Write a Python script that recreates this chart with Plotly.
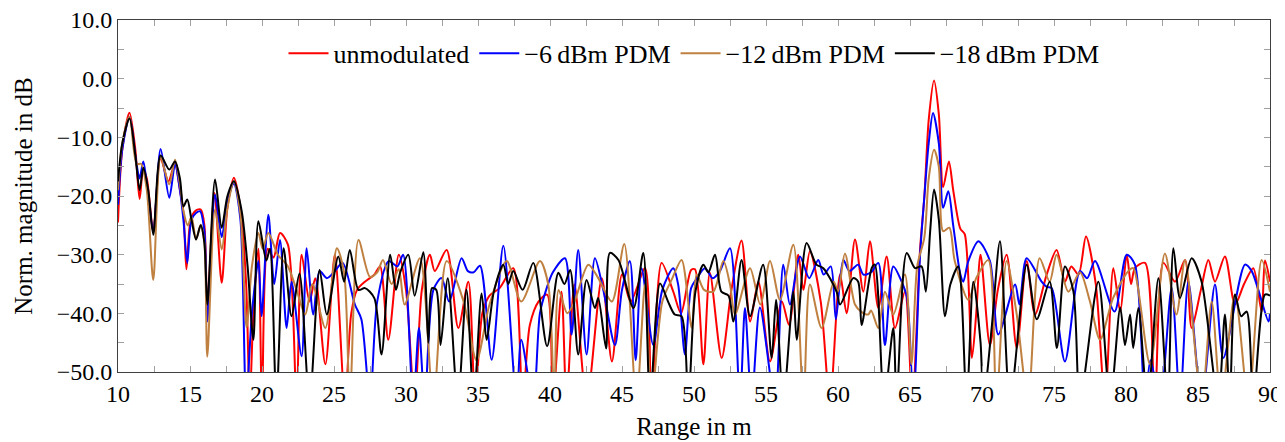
import plotly.graph_objects as go

# ---- data (range in m, normalized magnitude in dB) ----
unmod_x = [10.0, 10.3, 10.8, 11.2, 11.5, 11.75, 12.0, 12.45, 12.95, 13.5, 13.95, 14.3, 14.55, 14.75, 15.05,
           15.4, 15.75, 16.0, 16.2, 16.7, 17.2, 17.6, 18.05, 18.5, 18.9, 19.15, 19.4, 19.75,
           20.0, 20.4, 20.8, 21.25, 21.8, 22.4, 22.75, 23.3, 23.7, 24.4, 25.06, 25.76, 26.2, 26.6, 27.15,
           27.8, 28.2, 28.77, 29.5, 30.0, 30.6, 31.1, 31.66, 32.0, 32.82, 33.63, 34.33, 34.8, 35.3, 35.8,
           36.5, 37.45, 38.1, 38.6, 39.2, 39.8, 40.2, 40.8, 41.15, 41.7, 42.55, 43.6, 44.3, 45.0, 45.6,
           46.6, 47.05, 47.75, 48.56, 49.1, 49.8, 50.07, 50.65, 51.1, 51.92, 52.6, 53.3, 53.9, 54.47, 55.28,
           56.1, 56.6, 57.24, 57.6, 58.05, 58.8, 59.44, 60.14, 60.6, 61.18, 61.76, 62.22, 62.8, 63.38,
           63.96, 64.65, 65.16, 65.7, 66.0, 66.3, 66.67, 67.0, 67.3, 67.7, 68.0, 68.5, 68.8, 69.3, 69.6,
           69.9, 70.55, 71.1, 71.71, 72.41, 73.1, 73.68, 74.49, 75.18, 75.76, 76.2, 76.7, 77.22, 77.9, 78.54,
           79.12, 79.6, 80.05, 80.35, 80.62, 81.32, 82.0, 82.6, 83.4, 84.1, 84.56, 85.2, 85.72, 86.18, 86.87,
           87.57, 88.2, 88.84, 89.42, 89.65, 90.0]
unmod_y = [-24.5, -12.0, -5.8, -12.0, -20.5, -15.5, -17.0, -26.0, -13.5, -17.5, -14.5, -19.0, -23.0, -32.5, -24.0,
           -22.5, -22.3, -25.0, -39.0, -19.5, -34.8, -22.0, -16.9, -22.0, -35.0, -55.0, -40.0, -29.0,
           -55.0, -29.0, -30.5, -26.3, -28.3, -55.0, -30.0, -38.0, -34.0, -48.7, -30.0, -55.0, -40.0, -36.0, -34.6,
           -33.4, -32.0, -44.5, -30.0, -36.0, -55.0, -36.0, -30.0, -32.8, -29.2, -42.5, -34.6, -55.0, -40.0, -37.0,
           -35.7, -32.3, -55.0, -42.0, -38.0, -36.8, -55.0, -36.3, -55.0, -35.1, -55.0, -34.0, -48.2, -33.4, -38.0,
           -32.3, -55.0, -31.4, -36.3, -40.0, -32.6, -32.5, -48.7, -33.1, -47.6, -36.0, -27.6, -41.4, -34.6, -48.2,
           -38.0, -42.0, -30.0, -36.0, -29.4, -38.0, -55.0, -33.4, -40.0, -27.4, -36.3, -27.7, -39.1, -30.3,
           -42.5, -36.3, -55.0, -29.0, -20.0, -7.0, -0.3, -6.0, -18.5, -14.1, -19.0, -25.6, -26.5, -47.6, -40.0,
           -30.0, -45.4, -36.0, -30.0, -45.9, -31.1, -40.2, -33.4, -29.2, -34.6, -32.0, -33.4, -26.9, -35.0, -55.0,
           -32.3, -39.7, -30.0, -35.0, -32.3, -31.4, -55.0, -31.4, -34.6, -30.9, -42.5, -36.0, -30.9, -34.6, -30.3,
           -38.5, -35.0, -32.3, -39.7, -31.0, -34.6]

pdm6_x = [10.0, 10.3, 10.8, 11.25, 11.5, 11.76, 12.1, 12.45, 12.96, 13.56, 13.96, 14.3, 14.54, 14.81, 15.1,
          15.42, 15.7, 16.0, 16.2, 16.74, 17.2, 17.6, 18.05, 18.5, 18.9, 19.3, 19.75, 19.97, 20.44, 20.85,
          21.25, 21.71, 22.05, 22.75, 23.1, 23.56, 24.0, 24.5, 25.0, 25.6, 26.45, 26.9, 27.5, 28.0, 28.8,
          29.4, 29.8, 30.5, 30.9, 31.3, 31.9, 32.47, 33.0, 33.86, 34.3, 34.7, 35.14, 35.95, 36.76, 37.68,
          38.0, 38.84, 39.3, 39.77, 40.2, 41.04, 41.5, 41.96, 42.54, 43.12, 43.7, 44.51, 45.0, 45.55, 45.95,
          46.36, 47.17, 47.8, 48.56, 48.9, 49.37, 49.8, 50.2, 50.76, 51.3, 51.8, 52.5, 53.19, 53.54, 54.0,
          54.58, 55.62, 56.2, 56.66, 57.36, 58.0, 58.63, 59.0, 59.5, 59.85, 60.37, 60.8, 61.4, 61.76, 62.3,
          62.8, 63.26, 63.84, 64.42, 64.8, 65.23, 65.7, 66.0, 66.3, 66.6, 67.0, 67.3, 67.66, 68.0, 68.5,
          68.7, 69.05, 69.75, 70.55, 71.13, 72.3, 72.6, 73.1, 74.14, 74.5, 74.84, 75.76, 76.8, 77.3, 77.85,
          79.2, 80.05, 80.62, 81.32, 81.7, 82.36, 83.17, 83.75, 84.33, 85.25, 86.18, 86.76, 88.26, 88.73,
          89.9, 90.0]
pdm6_y = [-21.5, -12.0, -6.5, -14.0, -17.0, -14.1, -20.0, -26.0, -12.0, -20.3, -14.6, -19.0, -24.0, -31.4, -24.0,
          -22.9, -22.6, -26.0, -41.4, -19.8, -27.0, -21.0, -17.9, -24.0, -55.0, -40.0, -31.1, -40.5, -23.2, -35.0,
          -27.5, -42.5, -34.6, -47.3, -28.9, -40.2, -32.8, -34.0, -33.0, -31.4, -38.5, -41.0, -55.0, -38.0, -31.1,
          -32.0, -30.0, -55.0, -42.5, -55.0, -36.0, -34.0, -38.0, -30.6, -32.8, -33.0, -31.9, -47.9, -28.5, -55.0,
          -44.5, -55.0, -40.0, -35.7, -33.0, -30.6, -43.6, -29.2, -47.0, -30.6, -36.0, -45.4, -36.0, -31.1, -48.0,
          -32.3, -45.4, -36.0, -32.3, -35.1, -47.0, -35.7, -34.0, -32.3, -34.0, -32.8, -28.9, -55.0, -39.1, -55.0,
          -39.0, -55.0, -31.7, -38.5, -30.3, -34.0, -30.9, -33.4, -32.0, -41.0, -30.9, -32.8, -31.7, -33.4, -33.0,
          -31.4, -45.4, -32.0, -34.6, -37.4, -55.0, -30.0, -20.0, -11.0, -5.85, -11.0, -22.0, -19.2, -25.0, -33.4,
          -34.6, -31.1, -27.7, -31.1, -43.6, -35.1, -38.5, -30.6, -34.6, -35.5, -35.7, -48.2, -32.8, -34.0, -31.1,
          -39.7, -30.0, -31.7, -55.0, -48.0, -55.0, -35.7, -55.0, -34.6, -55.0, -35.1, -47.6, -31.7, -32.8,
          -41.4, -40.0]

pdm12_x = [10.0, 10.3, 10.8, 11.3, 11.6, 12.0, 12.45, 12.96, 13.56, 13.96, 14.3, 14.54, 14.85, 15.1, 15.42,
           15.74, 16.0, 16.2, 16.74, 17.2, 17.6, 18.05, 18.5, 18.93, 19.3, 19.75, 20.05, 20.44, 21.1, 21.8,
           22.4, 23.0, 23.5, 24.4, 25.2, 25.7, 26.1, 26.7, 27.5, 28.0, 28.4, 29.0, 29.5, 29.9, 30.97, 31.9,
           32.82, 34.0, 34.9, 35.8, 36.99, 38.0, 39.3, 39.88, 40.3, 40.6, 41.2, 41.7, 42.66, 43.35, 44.3,
           45.16, 46.0, 46.6, 47.05, 47.8, 48.5, 49.14, 49.84, 50.18, 50.7, 51.34, 52.04, 52.5, 52.85, 53.89,
           54.6, 55.28, 55.97, 56.9, 57.6, 58.05, 58.86, 59.7, 60.0, 60.48, 61.18, 61.6, 62.1, 62.3, 62.8,
           63.26, 63.84, 64.65, 65.1, 65.5, 66.0, 66.3, 66.67, 67.0, 67.3, 67.73, 68.1, 69.05, 69.6, 70.44,
           71.0, 71.71, 72.4, 73.2, 74.0, 74.7, 75.18, 76.0, 76.8, 77.5, 78.2, 79.1, 80.16, 80.5, 81.67,
           82.7, 83.5, 84.1, 85.25, 85.95, 86.6, 87.57, 88.5, 89.42, 90.0]
pdm12_y = [-19.0, -11.0, -6.5, -14.6, -14.5, -19.0, -34.3, -13.5, -18.0, -13.8, -18.0, -22.5, -25.0, -23.5, -27.4,
           -24.9, -28.0, -47.4, -22.3, -29.1, -22.0, -17.5, -23.0, -42.4, -32.0, -26.3, -29.0, -26.3, -30.0, -32.0,
           -36.0, -40.2, -35.0, -42.5, -28.9, -33.0, -55.0, -27.5, -33.8, -33.0, -30.9, -35.0, -32.5, -38.5, -30.6, -55.0,
           -31.1, -38.0, -48.0, -38.5, -31.1, -38.0, -31.1, -35.1, -55.0, -36.0, -40.0, -38.0, -31.7, -34.0, -38.0,
           -28.2, -55.0, -35.1, -55.0, -38.0, -34.0, -30.9, -42.5, -33.4, -36.0, -36.3, -31.1, -35.1, -40.2, -32.3,
           -38.5, -31.1, -37.7, -28.3, -55.0, -35.1, -42.5, -34.6, -36.3, -29.8, -38.5, -39.7, -40.2, -39.5, -42.5,
           -36.3, -40.2, -33.4, -48.7, -32.0, -27.0, -17.0, -12.1, -15.0, -26.0, -25.4, -31.0, -37.7, -34.0, -30.9,
           -55.0, -31.1, -40.0, -55.0, -30.6, -34.6, -30.0, -36.3, -33.0, -38.0, -44.5, -37.4, -32.8, -32.3, -48.7,
           -29.8, -40.2, -30.9, -55.0, -38.0, -55.0, -36.8, -55.0, -30.9, -36.3]

pdm18_x = [10.0, 10.3, 10.8, 11.2, 11.5, 11.76, 12.1, 12.45, 12.96, 13.56, 13.96, 14.3, 14.54, 14.81, 15.1,
           15.42, 15.74, 16.0, 16.2, 16.74, 17.2, 17.6, 18.05, 18.59, 19.0, 19.4, 19.75, 20.3, 20.55, 21.0,
           21.5, 22.05, 22.6, 23.3, 24.0, 24.5, 25.3, 25.7, 26.1, 26.7, 27.15, 27.8, 28.3, 28.9, 29.3, 29.6,
           30.16, 30.6, 31.2, 31.55, 31.8, 32.1, 32.4, 32.9, 33.6, 34.2, 34.7, 35.25, 35.6, 36.1, 36.76,
           37.1, 37.45, 38.1, 38.84, 39.8, 40.58, 41.0, 41.4, 41.96, 42.54, 43.12, 43.35, 43.9, 44.16, 44.75,
           45.8, 46.48, 46.95, 47.64, 48.2, 48.66, 49.14, 49.6, 50.1, 50.65, 51.0, 51.46, 51.9, 52.4, 52.73,
           53.3, 53.89, 54.8, 55.39, 55.7, 56.2, 56.9, 57.13, 57.82, 58.5, 58.98, 59.9, 60.14, 61.06, 61.4,
           61.64, 62.34, 62.56, 63.2, 63.84, 64.07, 64.77, 65.35, 65.8, 66.1, 66.4, 66.67, 67.0, 67.43, 67.8,
           68.35, 68.93, 69.4, 69.9, 70.1, 70.67, 71.25, 71.95, 73.1, 73.8, 74.7, 75.2, 75.76, 76.35, 76.8,
           78.08, 78.9, 79.6, 79.93, 80.28, 80.5, 80.86, 81.5, 82.25, 82.9, 83.29, 83.75, 84.56, 85.25, 86.4,
           86.87, 87.2, 87.57, 88.0, 88.38, 88.84, 89.65, 90.0]
pdm18_y = [-17.5, -11.0, -6.8, -13.0, -19.0, -15.2, -19.0, -26.6, -13.1, -15.5, -14.1, -17.0, -21.8, -20.6, -24.0,
           -27.4, -25.0, -28.0, -38.5, -17.2, -25.4, -20.0, -17.5, -22.6, -32.0, -44.5, -24.3, -31.0, -29.0, -55.0,
           -28.9, -40.5, -33.2, -55.0, -32.6, -40.2, -30.3, -34.6, -29.2, -36.0, -35.7, -37.4, -47.0, -30.0, -36.0, -33.0,
           -30.0, -37.0, -29.6, -45.0, -35.7, -36.0, -45.4, -34.0, -55.0, -36.0, -55.0, -36.6, -44.5, -36.3, -31.7,
           -35.0, -32.8, -36.0, -31.4, -45.6, -33.1, -35.0, -32.6, -47.0, -34.3, -39.1, -37.4, -46.0, -29.7, -30.9,
           -39.1, -29.7, -55.0, -34.9, -38.0, -40.2, -40.5, -55.0, -36.3, -31.7, -33.0, -30.0, -36.3, -37.0, -41.4,
           -30.9, -40.5, -31.7, -47.6, -37.7, -55.0, -36.3, -44.5, -28.0, -31.7, -32.3, -36.3, -38.5, -34.0, -34.6,
           -42.0, -32.3, -31.7, -55.0, -42.5, -55.0, -29.7, -32.3, -32.0, -36.3, -26.0, -18.9, -24.0, -40.5, -35.1,
           -32.0, -55.0, -34.6, -45.0, -55.0, -42.5, -27.7, -55.0, -31.7, -41.0, -34.6, -45.9, -32.0, -36.3, -55.0,
           -34.6, -55.0, -39.0, -45.4, -40.2, -45.9, -39.1, -55.0, -34.0, -55.0, -28.9, -37.4, -30.6, -34.6, -55.0,
           -40.2, -55.0, -36.8, -40.5, -39.7, -55.0, -36.8, -37.0]

series_names = ["unmodulated", "\u22126\u2009dBm PDM", "\u221212\u2009dBm PDM", "\u221218\u2009dBm PDM"]
series_colors = ["#ff0000", "#0000ff", "#bf8040", "#000000"]

FONT = "Liberation Serif"

fig = go.Figure()
for xs, ys, name, col in zip([unmod_x, pdm6_x, pdm12_x, pdm18_x],
                             [unmod_y, pdm6_y, pdm12_y, pdm18_y],
                             series_names, series_colors):
    fig.add_trace(go.Scatter(x=xs, y=ys, mode="lines", name=name,
                             line=dict(color=col, width=2, shape="spline", smoothing=0.8)))

axis_common = dict(showline=True, linecolor="#404040", linewidth=1, mirror="ticks",
                   ticks="inside", ticklen=6, tickcolor="#a0a0a0", tickwidth=1,
                   showgrid=False, zeroline=False, automargin=False,
                   ticklabeloverflow="allow",
                   tickfont=dict(family=FONT, size=24, color="#000"))

# the page body adds an 8 px offset; margins are set so the plot box lands where the reference has it
fig.update_layout(
    width=1285, height=442,
    margin=dict(l=110, r=23, t=12, b=78),
    paper_bgcolor="white", plot_bgcolor="white",
    font=dict(family=FONT, color="#000"),
    showlegend=True,
    legend=dict(orientation="h", x=0.5, xanchor="center", y=0.905, yanchor="middle",
                font=dict(family=FONT, size=26), bgcolor="rgba(255,255,255,0)",
                itemwidth=40, tracegroupgap=0),
    xaxis=dict(range=[10, 90], dtick=5, tick0=10,
               minor=dict(dtick=2.5, ticks="inside", ticklen=6, tickcolor="#a0a0a0"),
               title=dict(text="Range in m", font=dict(family=FONT, size=25), standoff=11),
               **axis_common),
    yaxis=dict(range=[-50, 10], dtick=10, tick0=-50, tickformat=".1f",
               minor=dict(dtick=5, ticks="inside", ticklen=6, tickcolor="#a0a0a0"),
               title=dict(text="Norm. magnitude in dB", font=dict(family=FONT, size=25), standoff=16),
               **axis_common),
)

fig.write_html("out.html")
